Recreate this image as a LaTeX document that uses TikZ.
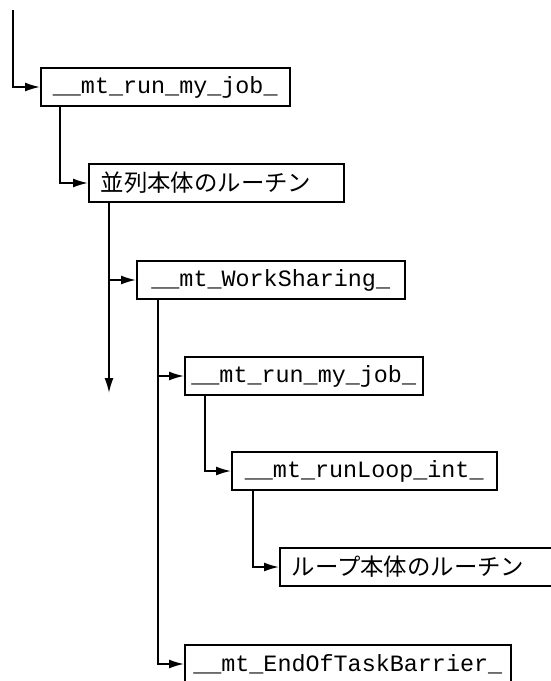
\documentclass[tikz,border=0pt]{standalone}
\usepackage{fontspec}
\setmonofont{Liberation Mono}
\newfontfamily\jpfont{Noto Sans CJK JP}
\usetikzlibrary{arrows.meta}
\tikzset{
  box/.style={draw, line width=1.5pt, anchor=west, minimum height=38pt, inner xsep=0pt,
    font=\fontsize{23.4}{26}\selectfont},
  jpbox/.style={box, align=left, inner xsep=12pt},
  conn/.style={line width=1.7pt, -{Latex[length=15pt,width=9pt]}}
}
\begin{document}
\begin{tikzpicture}[x=1pt,y=-1pt]
\useasboundingbox (0,0) rectangle (551,681);
\clip (0,0) rectangle (551,681);
\node[box, minimum width=249pt] (job) at (40,87) {\ttfamily\_\_mt\_run\_my\_job\_};
\node[jpbox, text width=231pt] (par) at (88,183) {\jpfont 並列本体のルーチン};
\node[box, minimum width=268pt] (ws) at (136,280) {\ttfamily\_\_mt\_WorkSharing\_};
\node[box, minimum width=238pt] (job2) at (184,376) {\ttfamily\_\_mt\_run\_my\_job\_};
\node[box, minimum width=265pt] (loop) at (231,471) {\ttfamily\_\_mt\_runLoop\_int\_};
\node[jpbox, text width=262pt] (body) at (279,567) {\jpfont ループ本体のルーチン};
\node[box, minimum width=326pt] (end) at (184,664) {\ttfamily\_\_mt\_EndOfTaskBarrier\_};
\coordinate (start) at (13,10);
\coordinate (parend) at (109,393);
\draw[conn] (start) |- (job.west);
\draw[conn] ([xshift=20pt]job.south west) |- (par.west);
\draw[conn] ([xshift=21pt]par.south west) -- (parend);
\draw[conn] ([xshift=21pt]par.south west) |- (ws.west);
\draw[conn] ([xshift=22pt]ws.south west) |- (job2.west);
\draw[conn] ([xshift=22pt]ws.south west) |- (end.west);
\draw[conn] ([xshift=21pt]job2.south west) |- (loop.west);
\draw[conn] ([xshift=22pt]loop.south west) |- (body.west);
\end{tikzpicture}
\end{document}
